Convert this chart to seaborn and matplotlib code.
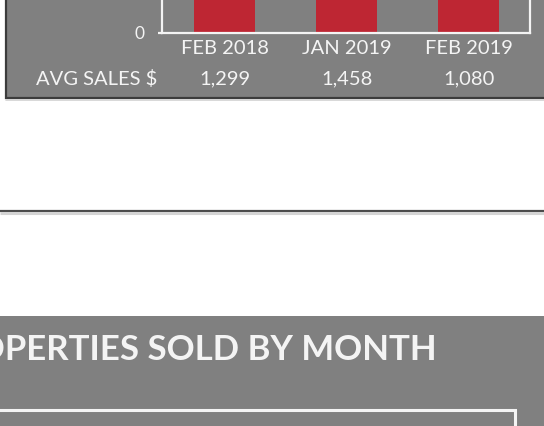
import matplotlib
matplotlib.use("Agg")
import matplotlib.pyplot as plt
import matplotlib.transforms as mtransforms
from matplotlib.patches import Rectangle
import seaborn as sns

# ---- data ----
months = ["FEB 2018", "JAN 2019", "FEB 2019"]
properties_sold = [40, 47, 35]          # bar tops lie outside the visible crop
avg_sales = [1299, 1458, 1080]
row_label = "AVG SALES $"
title_text = "PROPERTIES SOLD BY MONTH"
y_ticks = [0]

GRAY = "#808080"
RED = "#BE2633"
WHITE = "#F4F4F4"
FONT = ["Lato", "DejaVu Sans"]

sns.set_theme(style="white")
plt.rcParams["font.family"] = FONT

W, H = 544, 426
fig = plt.figure(figsize=(W / 100, H / 100), dpi=100, facecolor="white")

# background layer in pixel coordinates (y downwards)
bg = fig.add_axes([0, 0, 1, 1], zorder=0)
bg.set_xlim(0, W)
bg.set_ylim(H, 0)
bg.axis("off")

# top panel
bg.add_patch(Rectangle((6, -20), 600, 118, facecolor=GRAY, edgecolor="#3C3C3C", lw=1.6))
bg.plot([6, W], [100, 100], color="#D2D2D2", lw=1.2)
# divider line
bg.plot([0, W], [210.8, 210.8], color="#4A4A4A", lw=1.6, solid_capstyle="butt")
bg.plot([0, W], [213.3, 213.3], color="#D4D4D4", lw=2.2, solid_capstyle="butt")
# bottom panel
bg.add_patch(Rectangle((-10, 315.5), 600, 200, facecolor=GRAY, edgecolor="none"))
bg.add_patch(Rectangle((-20, 409.5), 534.5, 100, facecolor="none", edgecolor=WHITE, lw=2.2))
bg.text(437, 346.5, title_text, color=WHITE, fontsize=25, fontweight="bold",
        ha="right", va="center_baseline", family=FONT)

# chart axes (extends above the visible crop)
bottom_px, top_px = 32.5, -200
left_px, right_px = 161.5, 530
ax = fig.add_axes([left_px / W, (H - bottom_px) / H,
                   (right_px - left_px) / W, (bottom_px - top_px) / H], zorder=2)
ax.patch.set_alpha(0)
sns.barplot(x=months, y=properties_sold, ax=ax, color=RED, saturation=1,
            width=0.5, edgecolor="none")
ax.set_xlim(-0.52, 2.5)
ax.set_ylim(0, 50)
ax.set_yticks(y_ticks)
ax.set_xlabel("")
ax.set_ylabel("")
for s in ["left", "bottom", "right"]:
    ax.spines[s].set_visible(True)
    ax.spines[s].set_color(WHITE)
    ax.spines[s].set_linewidth(1.6)
ax.spines["top"].set_visible(False)
ax.tick_params(axis="x", length=0, pad=5.5, labelsize=14.5, labelcolor=WHITE)
ax.tick_params(axis="y", length=3, width=1.6, color=WHITE, pad=9,
               labelsize=12.5, labelcolor=WHITE, left=True)

# avg sales row below the bars
trans = mtransforms.blended_transform_factory(ax.transData, bg.transData)
for i, v in enumerate(avg_sales):
    ax.text(i, 79, f"{v:,}", transform=trans, ha="center", va="center",
            color=WHITE, fontsize=14.5, clip_on=False)
bg.text(157, 79, row_label, ha="right", va="center", color=WHITE, fontsize=14.5)

fig.savefig("out.png", dpi=100, facecolor="white")
